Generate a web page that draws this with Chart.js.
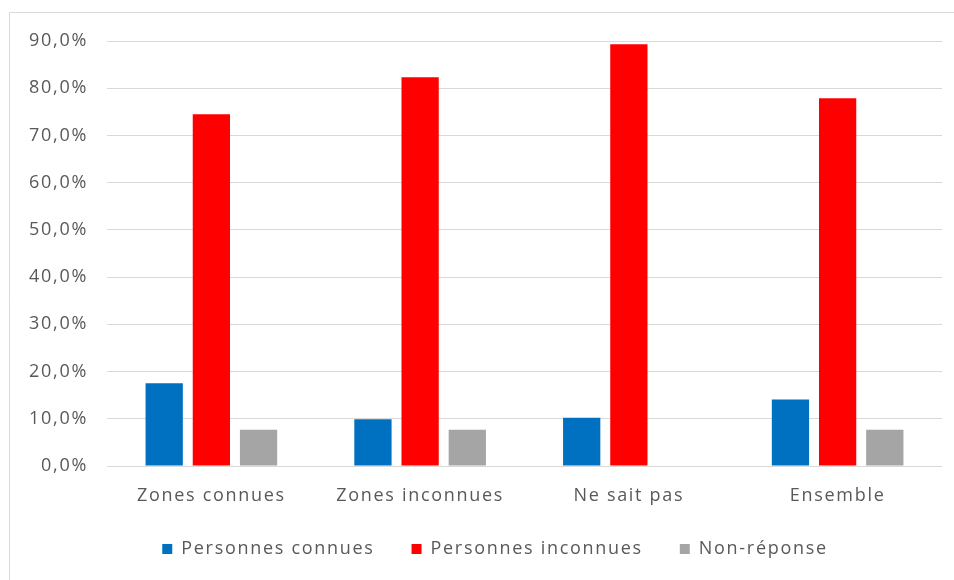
<!DOCTYPE html>
<html>
<head>
<meta charset="utf-8">
<script src="https://cdn.jsdelivr.net/npm/chart.js@4/dist/chart.umd.min.js"></script>
<style>
  html, body { margin: 0; padding: 0; background: #fff; }
  #wrap { position: relative; width: 954px; height: 580px; }
</style>
</head>
<body>
<div id="wrap"><canvas id="grafico" width="954" height="580"></canvas></div>
<script>
const categories = ["Zones connues", "Zones inconnues", "Ne sait pas", "Ensemble"];
const seriesNames = ["Personnes connues", "Personnes inconnues", "Non-réponse"];
const connues = [17.5, 9.9, 10.2, 14.1];
const inconnues = [74.5, 82.3, 89.3, 77.9];
const nonReponse = [7.7, 7.7, 0, 7.7];
const yTicks = [0, 10, 20, 30, 40, 50, 60, 70, 80, 90];

const colors = ["#0070C0", "#FF0000", "#A5A5A5"];
const textColor = "#595959";
const font = { family: "'Open Sans', sans-serif", size: 18 };

// texte un peu plus espacé, comme dans Excel
const espacement = {
  id: "espacement",
  beforeUpdate(chart) { chart.ctx.letterSpacing = "1.7px"; },
  beforeLayout(chart) { chart.ctx.letterSpacing = "1.7px"; },
  afterLayout(chart) {
    // pas de découpe des libellés de l'axe x, légende décalée vers la droite
    chart.scales.x._computeLabelArea = () => undefined;
    chart.legend.left += 48;
  },
  beforeDraw(chart) { chart.ctx.letterSpacing = "1.7px"; }
};

const frame = {
  id: "frame",
  beforeDraw(chart) {
    const ctx = chart.ctx;
    ctx.save();
    ctx.strokeStyle = "#d9d9d9";
    ctx.lineWidth = 1;
    ctx.beginPath();
    ctx.moveTo(9.5, 590);
    ctx.lineTo(9.5, 12.5);
    ctx.lineTo(954, 12.5);
    ctx.stroke();
    ctx.restore();
  }
};

new Chart(document.getElementById("grafico"), {
  type: "bar",
  data: {
    labels: categories,
    datasets: [connues, inconnues, nonReponse].map((d, i) => ({
      label: seriesNames[i],
      data: d,
      backgroundColor: colors[i],
      borderWidth: 0,
      categoryPercentage: 0.678,
      barPercentage: 0.79
    }))
  },
  options: {
    responsive: false,
    animation: false,
    layout: { padding: { top: 41, right: 12, left: 0, bottom: 12 } },
    plugins: {
      legend: {
        position: "bottom",
        labels: {
          color: textColor,
          font: font,
          boxWidth: 10,
          boxHeight: 10,
          padding: 37
        }
      },
      tooltip: { enabled: false }
    },
    scales: {
      x: {
        afterFit: s => { s.height = 37; },
        grid: { display: false },
        border: { display: false },
        ticks: { color: textColor, font: font, padding: 11 }
      },
      y: {
        min: 0,
        max: 90,
        afterFit: s => { s.width = 107; },
        afterBuildTicks: s => { s.ticks = yTicks.map(v => ({ value: v })); },
        grid: { color: "#d9d9d9", lineWidth: 1, drawTicks: false },
        border: { display: false },
        ticks: {
          color: textColor,
          font: font,
          padding: 19,
          callback: v => v.toFixed(1).replace(".", ",") + "%"
        }
      }
    }
  },
  plugins: [espacement, frame]
});
</script>
</body>
</html>
